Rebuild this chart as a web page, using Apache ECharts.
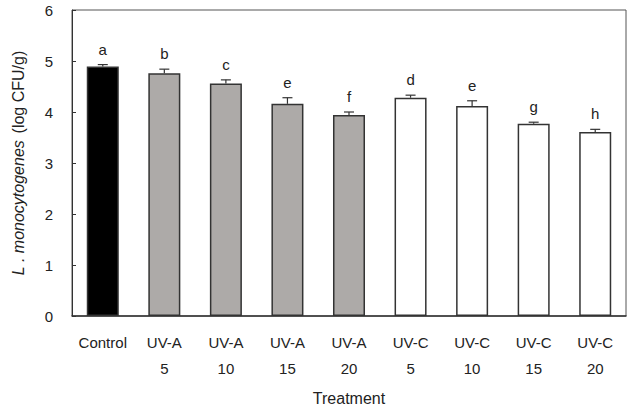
<!DOCTYPE html>
<html>
<head>
<meta charset="utf-8">
<script src="https://cdn.jsdelivr.net/npm/echarts@6/dist/echarts.min.js"></script>
<style>
  html, body { margin: 0; padding: 0; background: #fff; }
  #chart { width: 638px; height: 411px; }
</style>
</head>
<body>
<div id="chart"></div>
<script>
var categories = ['Control', 'UV-A\n5', 'UV-A\n10', 'UV-A\n15', 'UV-A\n20', 'UV-C\n5', 'UV-C\n10', 'UV-C\n15', 'UV-C\n20'];
var groups = ['Control', 'UV-A', 'UV-A', 'UV-A', 'UV-A', 'UV-C', 'UV-C', 'UV-C', 'UV-C'];
var means = [4.89, 4.76, 4.56, 4.16, 3.94, 4.28, 4.12, 3.77, 3.61];
var errors = [0.04, 0.08, 0.07, 0.12, 0.06, 0.05, 0.10, 0.03, 0.05];
var letters = ['a', 'b', 'c', 'e', 'f', 'd', 'e', 'g', 'h'];
var yTicks = [0, 1, 2, 3, 4, 5, 6];

(function() {
  var font = 'Liberation Sans, Arial, sans-serif';
  var ink = '#222';
  var groupColor = { 'Control': '#000000', 'UV-A': '#adaaa8', 'UV-C': '#ffffff' };

  var chart = echarts.init(document.getElementById('chart'), null, { renderer: 'svg' });

  var errData = means.map(function(m, i) { return [i, m, errors[i], letters[i]]; });

  chart.setOption({
    animation: false,
    grid: {
      left: 72, right: 12, top: 10, bottom: 93,
      show: true, borderColor: '#555', borderWidth: 1, backgroundColor: 'transparent'
    },
    xAxis: {
      type: 'category',
      data: categories,
      name: 'Treatment',
      nameLocation: 'middle',
      nameGap: 74,
      nameTextStyle: { fontFamily: font, fontSize: 16, color: ink },
      axisTick: { show: false },
      axisLine: { lineStyle: { color: '#333', width: 1.5 } },
      axisLabel: {
        fontFamily: font, fontSize: 15, color: ink,
        margin: 13, lineHeight: 26, interval: 0
      }
    },
    yAxis: {
      type: 'value',
      min: yTicks[0],
      max: yTicks[yTicks.length - 1],
      interval: 1,
      name: '{i|L . monocytogenes}  {n|(log CFU/g)}',
      nameLocation: 'middle',
      nameRotate: 90,
      nameGap: 46,
      nameTextStyle: {
        rich: {
          i: { fontFamily: font, fontSize: 16, fontStyle: 'italic', color: ink },
          n: { fontFamily: font, fontSize: 16, color: ink }
        }
      },
      splitLine: { show: false },
      axisLine: { show: true, lineStyle: { color: '#333', width: 1 } },
      axisTick: { show: true, inside: true, length: 4, lineStyle: { color: '#333' } },
      axisLabel: { fontFamily: font, fontSize: 15, color: ink, margin: 19 }
    },
    series: [
      {
        type: 'bar',
        barWidth: '52%',
        data: means.map(function(m, i) {
          return {
            value: m,
            itemStyle: { color: groupColor[groups[i]], borderColor: '#333', borderWidth: 1.5 }
          };
        }),
        z: 2
      },
      {
        type: 'custom',
        z: 3,
        data: errData,
        renderItem: function(params, api) {
          var x = api.value(0);
          var m = api.value(1);
          var e = api.value(2);
          var base = api.coord([x, m]);
          var top = api.coord([x, m + e]);
          var cap = 5;
          return {
            type: 'group',
            children: [
              { type: 'line', shape: { x1: base[0], y1: base[1], x2: top[0], y2: top[1] },
                style: { stroke: '#333', lineWidth: 1.2 } },
              { type: 'line', shape: { x1: top[0] - cap, y1: top[1], x2: top[0] + cap, y2: top[1] },
                style: { stroke: '#333', lineWidth: 1.2 } },
              { type: 'text', x: top[0], y: top[1] - 8,
                style: { text: api.value(3), fontFamily: font, fontSize: 15, fill: ink,
                         align: 'center', verticalAlign: 'bottom' } }
            ]
          };
        }
      }
    ]
  });
  window.addEventListener('resize', function() { chart.resize(); });
})();
</script>
</body>
</html>
